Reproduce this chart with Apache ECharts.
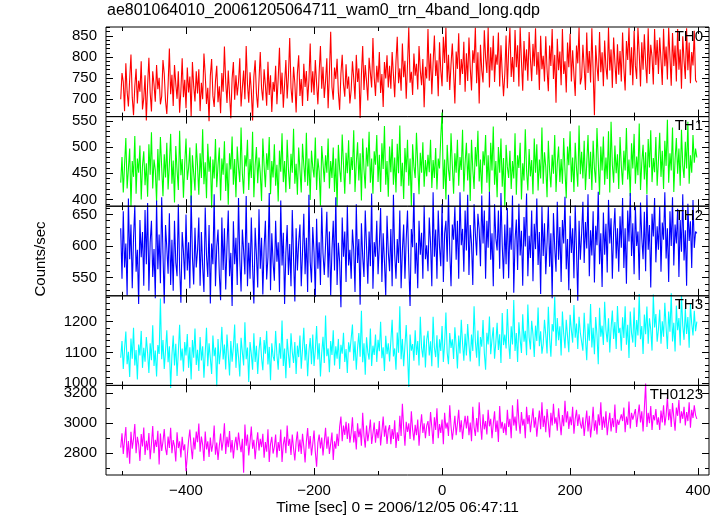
<!DOCTYPE html>
<html><head><meta charset="utf-8">
<script src="https://cdn.jsdelivr.net/npm/echarts@6/dist/echarts.min.js"></script>
<style>html,body{margin:0;padding:0;background:#fff}#c{width:724px;height:516px}</style>
</head><body><div id="c"></div>
<script>
const TITLE = 'ae801064010_20061205064711_wam0_trn_4band_long.qdp';
const X_NAME = 'Time [sec] 0 = 2006/12/05 06:47:11';
const Y_NAME = 'Counts/sec';
const PANEL_NAMES = ['TH0', 'TH1', 'TH2', 'TH3', 'TH0123'];
const T_START = -502, T_STEP = 2;

const TH0 = [
700,762,741,672,785,718,683,748,806,705,662,731,772,690,744,718,790,676,702,757,650,733,798,716,671,766,735,694,781,724,
751,688,707,793,760,696,665,734,820,712,758,684,781,737,701,766,668,720,797,705,746,679,775,716,754,660,788,731,695,766,
714,771,672,739,700,808,759,689,727,648,756,795,708,682,743,779,693,731,667,762,718,825,741,691,768,711,655,749,788,699,
757,709,741,797,683,727,768,700,826,736,692,764,720,650,754,792,714,680,745,812,726,697,771,733,685,789,710,757,670,741,
718,779,688,749,822,712,763,680,736,793,702,756,845,727,692,777,738,669,762,804,708,748,684,784,729,767,696,745,832,716,
766,710,793,737,688,764,826,725,777,703,744,797,679,761,860,729,699,775,748,796,716,675,761,805,735,706,783,725,754,690,
722,790,749,700,805,741,773,656,758,826,722,781,742,697,798,763,728,845,752,708,779,740,812,715,760,682,788,749,804,728,
779,725,812,758,705,790,848,738,773,720,832,752,791,701,781,870,739,765,710,808,756,784,723,826,768,733,795,681,777,749,
866,744,808,712,786,851,755,792,707,835,768,731,848,786,869,741,805,722,783,832,765,690,813,772,856,734,795,760,836,718,
809,743,846,775,721,816,786,869,738,811,690,829,768,740,863,799,762,870,728,823,768,850,741,806,782,858,730,828,762,707,
760,851,726,815,869,753,800,741,864,776,828,730,870,790,720,838,768,818,744,859,796,743,831,778,868,758,812,722,850,771,
803,742,849,770,719,827,779,866,748,805,692,843,769,813,733,866,760,790,716,834,776,855,742,816,758,708,827,785,870,735,
751,829,775,722,858,762,814,740,868,766,662,828,780,743,859,764,811,731,839,775,747,870,768,818,727,846,787,736,830,758,
814,742,858,773,721,838,793,869,757,823,733,862,779,748,869,808,730,835,770,854,785,738,868,760,829,801,735,866,781,840,
760,846,793,734,867,778,825,747,869,800,732,857,779,827,742,866,770,818,725,849,792,748,868,769,834,738,812,780,862,745,
740];

const TH1 = [
432,481,413,466,517,421,458,497,386,473,443,521,411,478,451,503,400,464,492,427,469,405,505,447,528,421,476,456,395,496,
436,519,461,406,486,442,508,419,467,525,430,474,394,502,456,418,531,446,477,403,468,516,437,460,499,392,484,450,417,507,
463,409,488,441,534,429,471,402,506,453,482,384,476,440,515,423,465,499,398,478,447,511,416,469,390,488,457,520,428,477,
404,501,461,433,537,450,411,484,463,514,418,477,441,529,404,465,500,431,480,450,397,516,464,423,488,456,519,410,473,442,
505,426,466,396,493,453,526,433,473,413,514,457,420,487,451,535,430,468,409,499,455,413,506,466,433,527,426,478,399,493,
461,442,518,418,478,453,388,502,469,433,484,451,516,421,473,441,499,414,478,386,504,457,433,524,466,411,489,450,513,429,
481,456,532,414,469,509,436,488,398,516,457,421,499,463,529,432,478,411,492,466,523,433,485,414,507,458,540,428,473,405,
501,452,515,428,480,413,506,450,541,425,470,401,498,452,514,426,478,387,505,463,441,527,466,410,489,451,509,424,475,444,
485,452,514,422,475,441,498,419,478,459,520,566,420,476,400,504,457,435,526,465,411,488,451,514,426,481,456,533,415,470,
508,436,488,397,514,457,420,500,463,531,434,476,411,492,465,523,432,484,413,508,455,539,428,473,404,500,451,516,424,479,
385,504,462,441,493,420,473,440,526,409,484,460,508,400,469,436,534,455,417,496,444,475,410,516,451,505,417,476,440,537,
430,490,462,404,512,455,423,485,449,523,414,469,501,433,477,430,517,455,402,501,465,530,433,480,414,508,460,424,541,448,
491,440,512,418,469,523,439,491,418,512,459,432,536,473,409,501,455,520,428,480,439,530,413,548,466,432,503,450,486,420,
519,464,428,493,455,536,438,476,406,507,459,525,430,482,446,545,418,470,504,438,490,410,515,461,532,433,479,452,519,426,
474,527,443,493,420,512,464,552,432,488,455,537,414,476,517,449,497,426,533,465,441,510,459,548,430,484,451,523,470,497,
480];

const TH2 = [
628,548,655,566,604,522,675,579,634,533,613,664,559,594,508,641,582,622,537,657,571,668,529,606,640,551,595,517,672,563,
618,541,677,588,509,633,597,556,652,538,610,529,640,574,552,666,566,510,622,591,547,650,561,606,533,680,583,539,629,566,
593,645,537,622,567,527,661,585,551,633,509,604,571,682,536,599,626,555,514,645,562,628,531,600,656,552,589,505,639,571,
613,538,676,579,528,626,592,555,679,536,605,548,645,568,509,629,586,534,658,564,613,523,598,640,547,582,684,530,620,574,
545,640,575,606,527,672,569,621,508,590,633,554,603,536,657,581,512,628,561,606,634,536,590,651,555,613,527,681,575,542,
630,590,519,643,564,606,538,661,588,554,602,654,550,623,522,594,640,561,677,538,605,575,503,645,583,623,543,664,569,594,
548,626,594,527,666,573,611,507,636,583,551,656,599,540,623,568,683,532,606,583,640,555,602,660,543,620,575,521,648,590,
560,627,536,681,587,548,611,573,656,533,593,634,548,611,656,570,505,627,598,684,556,605,533,640,586,621,548,664,579,601,
560,645,604,536,685,583,626,548,656,599,568,666,543,620,640,575,681,592,536,634,610,662,578,640,548,685,601,627,559,656,
593,681,554,633,604,538,666,620,585,651,626,568,680,604,656,548,640,597,686,578,620,536,666,612,593,656,564,684,601,548,
634,571,660,549,629,594,680,526,609,642,562,667,585,624,537,646,599,683,552,616,581,656,544,635,595,675,570,622,524,663,
584,636,555,605,663,567,620,517,652,597,559,670,578,630,543,641,604,678,563,611,530,648,589,628,549,664,594,513,640,578,
619,670,573,638,596,682,552,625,585,655,542,632,601,686,571,620,535,653,586,635,558,673,604,644,548,622,660,580,628,559,
647,597,676,565,628,540,656,607,684,584,636,555,662,600,623,546,669,613,579,654,560,681,594,633,534,651,615,676,574,631,
594,663,559,637,610,685,580,628,543,655,600,677,569,634,604,659,551,641,591,682,577,625,537,667,608,639,565,673,597,623,
620];

const TH3 = [
1083,1137,1046,1112,1168,1062,1102,1020,1145,1080,1180,1058,1108,1012,1126,1090,1170,1050,1115,1070,1150,1098,1033,1130,1075,1188,1056,1106,1022,1124,
1095,1275,1078,1140,1046,1106,1172,1068,1120,985,1092,1155,1058,1128,1024,1102,1190,1074,1113,1038,1134,1090,1160,1050,1117,1012,1140,1083,1178,1059,
1109,1040,1150,1074,1120,1018,1099,1180,1055,1130,1081,1030,1155,1088,1116,990,1144,1062,1106,1183,1077,1126,1045,1158,1093,1025,1137,1070,1118,1191,
1050,1130,1085,1022,1148,1101,1058,1198,1078,1116,1004,1134,1095,1044,1162,1069,1122,1030,1106,1150,1082,1042,1140,1096,1170,1061,1118,1010,1130,1088,
1072,1170,1092,1044,1130,1080,1204,1056,1113,1016,1144,1094,1050,1162,1102,1066,1134,1030,1122,1085,1155,1047,1111,1180,1074,1127,1023,1103,1147,1062,
1158,1056,1108,1186,1077,1130,1022,1099,1151,1066,1220,1088,1113,1036,1137,1092,1172,1058,1120,1080,1144,1046,1125,1096,1164,1069,1111,1033,1133,1101,
1106,1191,1073,1136,1044,1115,1163,1086,1235,1068,1130,1028,1149,1101,1077,1178,1056,1122,1092,1158,1069,1141,1104,1200,1081,1117,1040,1154,1094,1130,
1071,1137,1206,1087,1113,1044,1165,1099,1250,1078,1144,1055,1122,1189,1094,988,1158,1106,1127,1073,1172,1092,1137,1058,1216,1115,1084,1155,1051,1141,
1170,1090,1136,1055,1216,1116,1085,1156,1050,1143,1105,1186,1069,1129,1230,1099,1062,1163,1115,1143,1079,1182,1123,1048,1155,1097,1206,1130,1073,1161,
1090,1192,1126,1071,1158,1105,1250,1136,1083,1171,1055,1150,1119,1205,1098,1044,1164,1126,1217,1094,1143,1182,1080,1133,1196,1108,1159,1066,1228,1124,
1158,1113,1241,1133,1079,1185,1126,1270,1105,1163,1069,1198,1142,1098,1224,1135,1170,1091,1256,1149,1110,1203,1159,1085,1187,1137,1246,1120,1169,1096,
1128,1206,1158,1097,1248,1147,1086,1192,1168,1281,1121,1212,1140,1185,1090,1233,1161,1114,1206,1153,1101,1222,1173,1132,1254,1148,1194,1111,1216,1164,
1159,1106,1229,1144,1075,1194,1138,1257,1116,1180,1094,1215,1157,1062,1245,1151,1187,1124,1265,1173,1133,1211,1100,1179,1236,1144,1199,1111,1251,1163,
1180,1106,1214,1147,1250,1125,1190,1082,1233,1163,1132,1246,1118,1205,1155,1290,1143,1186,1095,1223,1159,1249,1128,1211,1174,1106,1288,1181,1225,1135,
1175,1239,1128,1201,1151,1261,1181,1111,1233,1167,1292,1136,1196,1103,1252,1172,1212,1123,1286,1188,1141,1242,1160,1215,1115,1257,1194,1155,1235,1169,
1200];

const TH0123 = [
2838,2934,2796,2890,2975,2770,2882,2730,2944,2830,2895,2995,2800,2910,2860,2748,2928,2845,2972,2788,2884,2820,2935,2760,2862,2982,2800,2890,2842,2950,
2725,2932,2815,2878,2962,2832,2788,2912,2835,2970,2800,2888,2848,2745,2940,2835,2880,2772,2910,2820,2860,2680,2784,2885,2958,2842,2760,2905,2826,2945,
2874,2998,2810,2912,2858,2748,2945,2826,2880,2775,2905,2810,2862,2985,2790,2872,2756,2850,2932,2818,2882,3000,2795,2910,2840,2948,2806,2888,2765,2862,
2910,2820,2938,2862,2808,2896,2670,2992,2850,2925,2786,2875,2978,2830,2890,2760,2862,2940,2818,2896,2840,2930,2770,2875,2810,2960,2742,2862,2910,2798,
2842,2925,2772,2875,2815,2958,2742,2860,2910,2800,2985,2850,2896,2788,2925,2832,2752,2875,2945,2810,2892,2795,2930,2845,2738,2880,2968,2830,2915,2785,
2862,2952,2808,2710,2872,2925,2832,2905,2786,2878,2970,2830,2912,2795,2864,2938,2755,2880,2830,2930,2848,2978,3045,2880,2985,2922,3010,2895,3000,2870,
2935,3040,2872,2948,2825,3000,2908,2965,2850,3070,2915,2838,2985,2880,2945,3025,2862,2930,3005,2870,2962,2900,3015,2852,2945,3045,2910,2985,2862,2955,
2988,2860,2962,2895,3020,2836,2940,2882,3050,2915,3130,2972,2850,3010,2942,3000,2895,3080,2958,2885,2990,2920,3025,2850,2970,3060,2935,3000,2900,2985,
3015,2915,3075,2972,2862,3040,2955,3100,2900,2995,2935,3025,2860,3070,2965,3005,2915,3120,2980,2890,2965,3050,2920,2998,3090,2940,3020,2895,2985,3050,
2965,3050,2920,3005,2880,3110,2975,2915,3035,2940,3140,2990,2890,3060,2960,3015,2925,3090,2980,3030,2900,2998,3080,2942,3018,2875,3115,2965,3010,2935,
3000,2920,3090,2975,3030,2900,3120,2985,3045,2950,3160,3010,2930,3075,2985,3030,2900,3110,2995,3055,2940,3020,3100,2970,3040,2910,3005,3085,2960,3140,
2975,3050,2940,3095,3005,2905,3070,2985,3130,2998,3040,2950,3100,3010,2920,3055,2980,3150,3005,3080,2962,3045,2988,3110,2930,3030,3090,2982,3060,2998,
2965,3040,2915,3005,3085,2945,3050,2905,2990,3110,2950,3020,2925,3060,2985,3140,2955,3045,2970,3080,2920,3005,3070,2945,3035,2975,3125,2935,3025,2990,
2985,3060,3015,3105,2940,3045,2990,3145,2965,3070,3025,3020,3095,2975,3055,3125,3005,3080,2945,3100,3265,2975,3070,3000,3115,2955,3055,3020,3095,2990,
3040,2955,3085,3005,3120,2985,3055,3175,3020,3095,2975,3135,3040,2950,3105,3050,3155,3000,3080,3030,3110,2985,3075,3015,3140,2970,3090,3035,3120,3055,
3030];

const SERIES_VALUES = [TH0, TH1, TH2, TH3, TH0123];
const Y_MIN = [659, 387, 521, 993, 2655];
const Y_MAX = [871, 558, 663, 1284, 3253];
const Y_TICK_LABELS = [[700, 750, 800, 850], [400, 450, 500, 550], [550, 600, 650], [1000, 1100, 1200], [2800, 3000, 3200]];
const Y_MINOR_STEP = [10, 10, 10, 20, 100];
const X_MIN = -525, X_MAX = 417;
const X_TICK_LABELS = [-400, -200, 0, 200, 400];
const X_MINOR_TICKS = [-500, -300, -100, 100, 300];

const COLORS = ['#ff0000', '#00ff00', '#0000ff', '#00ffff', '#ff00ff'];
const FONT = 'Liberation Sans, Arial, Helvetica, sans-serif';
const GL = 106, GW = 603, GT = 27, GH = 89.6;

const grids = [], xAxes = [], yAxes = [], series = [], graphics = [];
function xa(i, pos, vals, len, labels) {
  return {
    type: 'value', gridIndex: i, position: pos, min: X_MIN, max: X_MAX,
    axisLine: { show: false, onZero: false }, splitLine: { show: false },
    axisTick: { show: true, inside: true, length: len, customValues: vals, lineStyle: { color: '#000', width: 1 } },
    axisLabel: labels ? { show: true, customValues: labels, color: '#000', fontSize: 15, fontFamily: FONT, margin: 8,
      formatter: v => String(v).replace('-', '\u2212') } : { show: false }
  };
}
function ya(i, pos, vals, len, labels) {
  return {
    type: 'value', gridIndex: i, position: pos, min: Y_MIN[i], max: Y_MAX[i],
    axisLine: { show: false, onZero: false }, splitLine: { show: false },
    axisTick: { show: true, inside: true, length: len, customValues: vals, lineStyle: { color: '#000', width: 1 } },
    axisLabel: labels ? { show: true, customValues: labels, color: '#000', fontSize: 15, fontFamily: FONT, margin: 9,
      formatter: v => String(v) } : { show: false }
  };
}
for (let i = 0; i < 5; i++) {
  const top = GT + i * GH;
  grids.push({ left: GL, width: GW, top: top, height: GH, show: true, borderColor: '#000', borderWidth: 1, backgroundColor: 'transparent', z: 5 });
  xAxes.push(xa(i, 'bottom', X_TICK_LABELS, 7, i === 4 ? X_TICK_LABELS : null));
  xAxes.push(xa(i, 'bottom', X_MINOR_TICKS, 4, null));
  xAxes.push(xa(i, 'top', X_TICK_LABELS, 7, null));
  xAxes.push(xa(i, 'top', X_MINOR_TICKS, 4, null));
  const major = Y_TICK_LABELS[i];
  const minor = [];
  const st = Y_MINOR_STEP[i];
  for (let v = Math.ceil(Y_MIN[i] / st) * st; v <= Y_MAX[i]; v += st) if (major.indexOf(v) < 0) minor.push(v);
  yAxes.push(ya(i, 'left', major, 7, major));
  yAxes.push(ya(i, 'left', minor, 4, null));
  yAxes.push(ya(i, 'right', major, 7, null));
  yAxes.push(ya(i, 'right', minor, 4, null));
  series.push({
    type: 'line', xAxisIndex: i * 4, yAxisIndex: i * 4,
    data: SERIES_VALUES[i].map((v, j) => [T_START + j * T_STEP, v]),
    symbol: 'none', showSymbol: false, clip: false, silent: true, animation: false,
    lineStyle: { color: COLORS[i], width: 1.1 }, z: 2
  });
  graphics.push({ type: 'text', right: 21, top: top + 2, z: 100,
    style: { text: PANEL_NAMES[i], fill: '#000', font: '15px ' + FONT, textAlign: 'right' } });
}
graphics.push({ type: 'text', left: 107, top: 3, z: 100, style: { text: TITLE, fill: '#000', font: '16px ' + FONT } });
graphics.push({ type: 'text', x: 397.5, y: 508, z: 100, style: { text: X_NAME, fill: '#000', font: '15.5px ' + FONT, textAlign: 'center', textVerticalAlign: 'middle' } });
graphics.push({ type: 'text', x: 41, y: 259, rotation: Math.PI / 2, z: 100, style: { text: Y_NAME, fill: '#000', font: '15px ' + FONT, textAlign: 'center', textVerticalAlign: 'middle' } });

const chart = echarts.init(document.getElementById('c'), null, { renderer: 'canvas' });
chart.setOption({ animation: false, backgroundColor: '#fff', grid: grids, xAxis: xAxes, yAxis: yAxes, series: series, graphic: graphics });
</script></body></html>
